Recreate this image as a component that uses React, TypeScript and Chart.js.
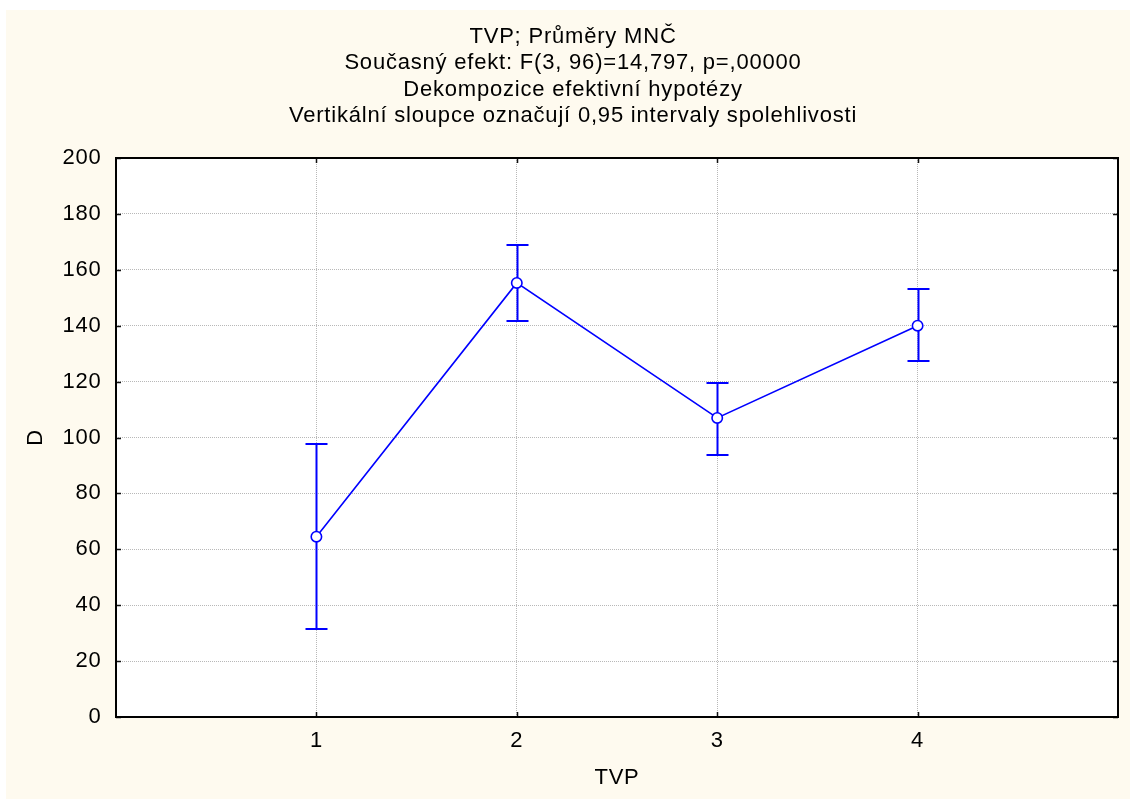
import React, { useEffect, useRef } from "react";
import { Chart, registerables } from "chart.js";

Chart.register(...registerables);

const titleLines = [
  "TVP; Průměry MNČ",
  "Současný efekt: F(3, 96)=14,797, p=,00000",
  "Dekompozice efektivní hypotézy",
  "Vertikální sloupce označují 0,95 intervaly spolehlivosti",
];
const categories = [1, 2, 3, 4];
const means = [64.5, 155.3, 107.0, 140.0];
const upperCI = [97.6, 168.9, 119.5, 153.0];
const lowerCI = [31.5, 141.7, 93.7, 127.4];
const xAxisTitle = "TVP";
const yAxisTitle = "D";
const xMin = 0;
const xMax = 5;
const yMin = 0;
const yMax = 200;
const yStep = 20;

const FAMILY = "'Liberation Sans', Arial, sans-serif";
const SPACING = "0.8px";
const BLUE = "#0000ff";
const CREAM = "#fefaef";

const spacingPlugin = {
  id: "spacing",
  beforeUpdate(chart: any) {
    chart.ctx.letterSpacing = SPACING;
  },
  beforeDraw(chart: any) {
    const { ctx, chartArea: a } = chart;
    ctx.letterSpacing = SPACING;
    ctx.save();
    ctx.fillStyle = "#ffffff";
    ctx.fillRect(a.left, a.top, a.right - a.left, a.bottom - a.top);
    ctx.restore();
  },
};

const errorBarPlugin = {
  id: "errorBars",
  beforeDatasetsDraw(chart: any) {
    const { ctx } = chart;
    const x = chart.scales.x;
    const y = chart.scales.y;
    ctx.save();
    ctx.strokeStyle = BLUE;
    ctx.lineWidth = 2;
    categories.forEach((c, i) => {
      const px = Math.round(x.getPixelForValue(c)) + 0.5;
      const top = Math.round(y.getPixelForValue(upperCI[i]));
      const bot = Math.round(y.getPixelForValue(lowerCI[i]));
      ctx.beginPath();
      ctx.moveTo(px, top);
      ctx.lineTo(px, bot);
      ctx.moveTo(px - 11, top);
      ctx.lineTo(px + 11, top);
      ctx.moveTo(px - 11, bot);
      ctx.lineTo(px + 11, bot);
      ctx.stroke();
    });
    ctx.restore();
  },
};

const framePlugin = {
  id: "frame",
  afterDraw(chart: any) {
    const { ctx, chartArea: a } = chart;
    const x = chart.scales.x;
    const y = chart.scales.y;
    const tl = 5;
    ctx.save();
    ctx.strokeStyle = "#111111";
    ctx.lineWidth = 1.5;
    ctx.beginPath();
    y.ticks.forEach((t: any) => {
      const py = Math.round(y.getPixelForValue(t.value)) + 0.5;
      ctx.moveTo(a.left, py);
      ctx.lineTo(a.left + tl, py);
      ctx.moveTo(a.right, py);
      ctx.lineTo(a.right - tl, py);
    });
    x.ticks.forEach((t: any) => {
      const px = Math.round(x.getPixelForValue(t.value)) + 0.5;
      ctx.moveTo(px, a.top);
      ctx.lineTo(px, a.top + tl);
      ctx.moveTo(px, a.bottom);
      ctx.lineTo(px, a.bottom - tl);
    });
    ctx.stroke();
    ctx.lineWidth = 2;
    ctx.strokeStyle = "#000000";
    ctx.strokeRect(a.left, a.top, a.right - a.left, a.bottom - a.top);
    ctx.restore();
  },
};

export default function App() {
  const ref = useRef<HTMLCanvasElement | null>(null);

  useEffect(() => {
    if (!ref.current) return;
    const font = { family: FAMILY, size: 22, weight: "normal" as const, lineHeight: 1.2 };
    const gridColor = "#b8b8b8";
    const chart = new Chart(ref.current, {
      type: "line",
      data: {
        datasets: [
          {
            data: categories.map((c, i) => ({ x: c, y: means[i] })),
            borderColor: BLUE,
            borderWidth: 1.6,
            pointRadius: 5.2,
            pointBackgroundColor: "#ffffff",
            pointBorderColor: BLUE,
            pointBorderWidth: 1.6,
            tension: 0,
            clip: false as any,
          },
        ],
      },
      options: {
        responsive: false,
        animation: false,
        layout: { padding: { left: 22, right: 12, top: 0, bottom: 0 } },
        plugins: {
          legend: { display: false },
          tooltip: { enabled: false },
          title: {
            display: true,
            text: titleLines,
            color: "#000000",
            font,
            padding: { top: 13.5, bottom: 28.9 },
          },
        },
        scales: {
          x: {
            type: "linear",
            min: xMin,
            max: xMax,
            afterBuildTicks: (s: any) => {
              s.ticks = categories.map((v) => ({ value: v }));
            },
            afterFit: (s: any) => {
              s.height = 82;
            },
            grid: { color: gridColor, lineWidth: 1, drawTicks: false },
            border: { display: false, dash: [1, 1] },
            ticks: {
              color: "#000000",
              font,
              padding: 10.8,
              maxRotation: 0,
              callback: (v: any) => String(v),
            },
            title: {
              display: true,
              text: xAxisTitle,
              color: "#000000",
              font,
              padding: { top: 0, bottom: 7.8 },
            },
          },
          y: {
            type: "linear",
            min: yMin,
            max: yMax,
            afterFit: (s: any) => {
              s.width = 88;
            },
            grid: { color: gridColor, lineWidth: 1, drawTicks: false },
            border: { display: false, dash: [1, 1] },
            ticks: {
              stepSize: yStep,
              color: "#000000",
              font,
              padding: 14.5,
              callback: (v: any) => String(v),
            },
            title: {
              display: true,
              text: yAxisTitle,
              color: "#000000",
              font,
              padding: { top: -5.5, bottom: 0 },
            },
          },
        },
      },
      plugins: [spacingPlugin, errorBarPlugin, framePlugin],
    });
    return () => chart.destroy();
  }, []);

  return (
    <div
      style={{
        position: "absolute",
        left: 6,
        top: 10,
        width: 1124,
        height: 789,
        background: CREAM,
      }}
    >
      <canvas ref={ref} width={1124} height={789} style={{ display: "block" }} />
    </div>
  );
}
